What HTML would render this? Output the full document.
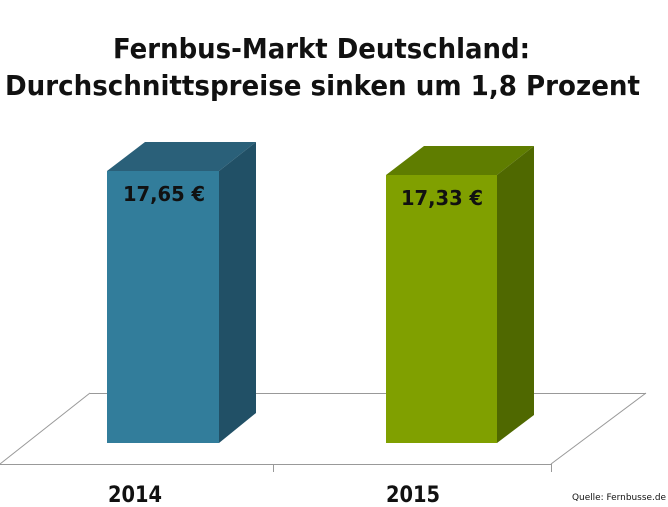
<!DOCTYPE html>
<html><head><meta charset="utf-8"><style>
html,body{margin:0;padding:0;background:#fff;}
svg{display:block;}
text{font-family:"DejaVu Sans","Liberation Sans",sans-serif;font-weight:bold;fill:#111;}
</style></head><body>
<svg width="668" height="507" viewBox="0 0 668 507" xmlns="http://www.w3.org/2000/svg">
<rect width="668" height="507" fill="#fff"/>
<text x="113" y="58" font-size="28" textLength="417" lengthAdjust="spacingAndGlyphs">Fernbus-Markt Deutschland:</text>
<text x="5" y="95" font-size="28" textLength="635" lengthAdjust="spacingAndGlyphs">Durchschnittspreise sinken um 1,8 Prozent</text>
<g stroke="#999" stroke-width="1" fill="none">
<line x1="90" y1="393.5" x2="646" y2="393.5"/>
<line x1="0" y1="464.5" x2="551" y2="464.5"/>
<line x1="0" y1="464" x2="90" y2="393"/>
<line x1="551" y1="464" x2="646" y2="393"/>
<line x1="273.5" y1="464" x2="273.5" y2="472"/>
<line x1="551.5" y1="464" x2="551.5" y2="472"/>
</g>
<polygon points="107,171 145,142 256,142 219,171" fill="#2a6079"/>
<polygon points="219,171 256,142 256,413 219,443" fill="#215066"/>
<rect x="107" y="171" width="112" height="272" fill="#327d9b"/>
<polygon points="386,175 424,146 534,146 497,175" fill="#5f7d00"/>
<polygon points="497,175 534,146 534,415 497,443" fill="#4f6800"/>
<rect x="386" y="175" width="111" height="268" fill="#80a000"/>
<text x="123" y="201" font-size="20" textLength="82" lengthAdjust="spacingAndGlyphs">17,65 €</text>
<text x="401" y="205" font-size="20" textLength="82" lengthAdjust="spacingAndGlyphs">17,33 €</text>
<text x="108" y="502" font-size="22" textLength="54" lengthAdjust="spacingAndGlyphs">2014</text>
<text x="386" y="502" font-size="22" textLength="54" lengthAdjust="spacingAndGlyphs">2015</text>
<text x="572" y="500" font-size="9" font-weight="normal" style="font-weight:normal" textLength="94" lengthAdjust="spacingAndGlyphs">Quelle: Fernbusse.de</text>
</svg>
</body></html>
